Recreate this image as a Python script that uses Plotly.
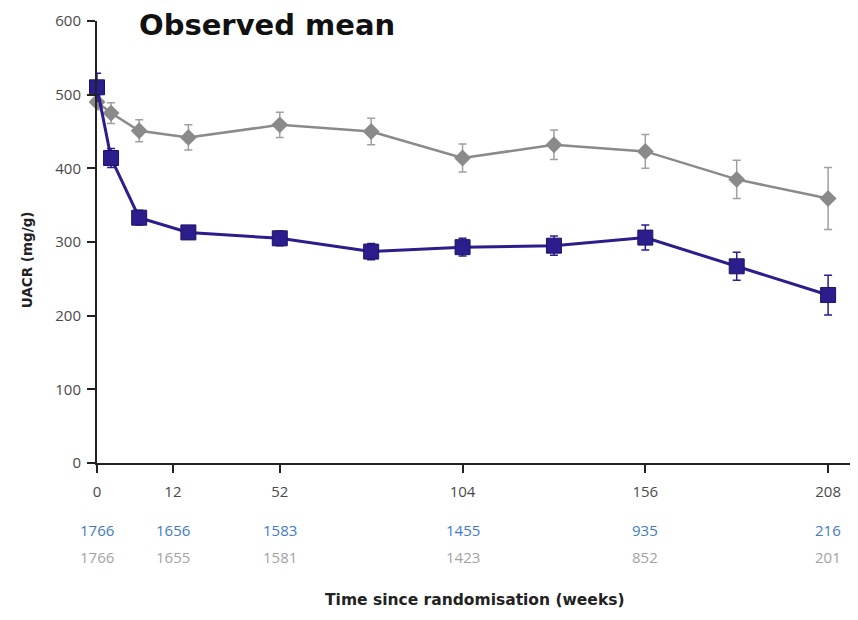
import plotly.graph_objects as go

# ---- data ----
weeks = [0, 4, 12, 26, 52, 78, 104, 130, 156, 182, 208]
treat_mean = [510, 414, 333, 313, 305, 287, 293, 295, 306, 267, 228]
treat_err = [19, 13, 10, 9, 10, 11, 12, 13, 17, 19, 27]
placebo_mean = [490, 475, 451, 442, 459, 450, 414, 432, 423, 385, 359]
placebo_err = [10, 14, 15, 17, 17, 18, 19, 20, 23, 26, 42]

tick_pos = [0, 21.6, 52, 104, 156, 208]
tick_labels = ["0", "12", "52", "104", "156", "208"]
n_treat = ["1766", "1656", "1583", "1455", "935", "216"]
n_placebo = ["1766", "1655", "1581", "1423", "852", "201"]

y_ticks = [0, 100, 200, 300, 400, 500, 600]

BLUE = "#2b1d8c"
GREY = "#8a8a8a"
NUM_BLUE = "#3f7cc4"
NUM_GREY = "#a3a3a3"
FONT = "Open Sans"
BOLD = "DejaVu Sans"

fig = go.Figure()
fig.add_trace(go.Scatter(
    x=weeks, y=placebo_mean, mode="lines+markers",
    line=dict(color=GREY, width=2.5),
    marker=dict(symbol="diamond", size=13, color=GREY),
    error_y=dict(type="data", array=placebo_err, color="#a0a0a0", thickness=1.5, width=4),
    cliponaxis=False, showlegend=False,
))
fig.add_trace(go.Scatter(
    x=weeks, y=treat_mean, mode="lines+markers",
    line=dict(color=BLUE, width=3),
    marker=dict(symbol="square", size=15, color=BLUE, line=dict(color="#1e1466", width=1)),
    error_y=dict(type="data", array=treat_err, color=BLUE, thickness=1.5, width=4),
    cliponaxis=False, showlegend=False,
))

annotations = []
for xp, a, b in zip(tick_pos, n_treat, n_placebo):
    annotations.append(dict(x=xp, y=-0.152, xref="x", yref="paper", text=a, showarrow=False,
                            font=dict(family=FONT, size=15, color=NUM_BLUE), xanchor="center", yanchor="middle"))
    annotations.append(dict(x=xp, y=-0.213, xref="x", yref="paper", text=b, showarrow=False,
                            font=dict(family=FONT, size=15, color=NUM_GREY), xanchor="center", yanchor="middle"))
annotations.append(dict(x=0.5, y=-0.311, xref="paper", yref="paper", text="<b>Time since randomisation (weeks)</b>",
                        showarrow=False, font=dict(family=BOLD, size=15.5, color="#222"),
                        xanchor="center", yanchor="middle"))
annotations.append(dict(x=-0.0927, y=0.459, xref="paper", yref="paper", text="<b>UACR (mg/g)</b>",
                        showarrow=False, textangle=-90, font=dict(family=BOLD, size=13.5, color="#222"),
                        xanchor="center", yanchor="middle"))
annotations.append(dict(x=0.053, y=0.990, xref="paper", yref="paper", text="<b>Observed mean</b>",
                        showarrow=False, font=dict(family=BOLD, size=29, color="#111"),
                        xanchor="left", yanchor="middle"))

fig.update_layout(
    width=850, height=612,
    margin=dict(l=89, r=6, t=13, b=157),
    paper_bgcolor="white", plot_bgcolor="white",
    annotations=annotations,
    xaxis=dict(range=[0, 214.8], tickmode="array", tickvals=tick_pos, ticktext=tick_labels,
               showgrid=False, zeroline=False, showline=True, linecolor="#222", linewidth=2,
               ticks="outside", ticklen=8, tickwidth=2, tickcolor="#222", automargin=False,
               ticklabelstandoff=6,
               tickfont=dict(family=FONT, size=15, color="#4a4a4a")),
    yaxis=dict(range=[0, 600], tickmode="array", tickvals=y_ticks,
               showgrid=False, zeroline=False, showline=True, linecolor="#222", linewidth=2,
               ticks="outside", ticklen=8, tickwidth=2, tickcolor="#222", automargin=False,
               ticklabelstandoff=3,
               tickfont=dict(family=FONT, size=15, color="#4a4a4a")),
)

fig.write_html("out.html")
